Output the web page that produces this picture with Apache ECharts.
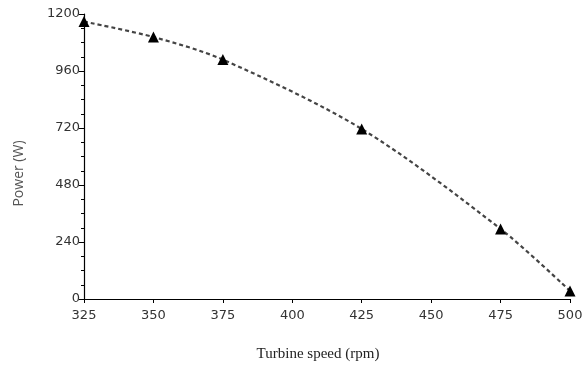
<!DOCTYPE html>
<html>
<head>
<meta charset="utf-8">
<script src="https://cdn.jsdelivr.net/npm/echarts@6/dist/echarts.min.js"></script>
<style>html,body{margin:0;padding:0;background:#fff;}#c{width:584px;height:366px;}</style>
</head>
<body>
<div id="c"></div>
<script>
const speeds = [325, 350, 375, 425, 475, 500];
const power = [1168, 1103, 1008, 716, 295, 34];
const xTicks = [325, 350, 375, 400, 425, 450, 475, 500];
const yTicks = [0, 240, 480, 720, 960, 1200];

const chart = echarts.init(document.getElementById('c'));
chart.setOption({
  animation: false,
  backgroundColor: '#fff',
  grid: { left: 84, right: 14, top: 14, bottom: 67, outerBoundsMode: 'none', containLabel: false },
  xAxis: {
    type: 'value',
    min: xTicks[0], max: xTicks[xTicks.length - 1], interval: 25,
    name: 'Turbine speed (rpm)', nameLocation: 'middle', nameGap: 48,
    nameTextStyle: { fontFamily: 'Liberation Serif', fontSize: 15, color: '#222', padding: [0, 18, 0, 0] },
    axisLine: { lineStyle: { color: '#000', width: 1.2 } },
    axisTick: { show: true, length: 4, lineStyle: { color: '#000' } },
    axisLabel: { fontFamily: 'DejaVu Sans', fontSize: 13, color: '#333', margin: 10 },
    splitLine: { show: false }
  },
  yAxis: {
    type: 'value',
    min: yTicks[0], max: yTicks[yTicks.length - 1], interval: 240,
    name: 'Power (W)', nameLocation: 'middle', nameGap: 58,
    nameTextStyle: { fontFamily: 'Open Sans', fontSize: 14, color: '#555', padding: [0, 34, 0, 0] },
    axisLine: { show: true, lineStyle: { color: '#000', width: 1.2 } },
    axisTick: { show: true, length: 5, lineStyle: { color: '#000' } },
    minorTick: { show: true, splitNumber: 4, length: 3, lineStyle: { color: '#000' } },
    axisLabel: { fontFamily: 'DejaVu Sans', fontSize: 13, color: '#333', margin: 4, formatter: v => String(v) },
    splitLine: { show: false }
  },
  series: [{
    type: 'line',
    data: speeds.map((s, i) => [s, power[i]]),
    smooth: 0.3,
    symbol: 'triangle',
    symbolSize: 11,
    itemStyle: { color: '#000' },
    lineStyle: { color: '#444', width: 2.2, type: [4, 3] }
  }]
});
</script>
</body>
</html>
